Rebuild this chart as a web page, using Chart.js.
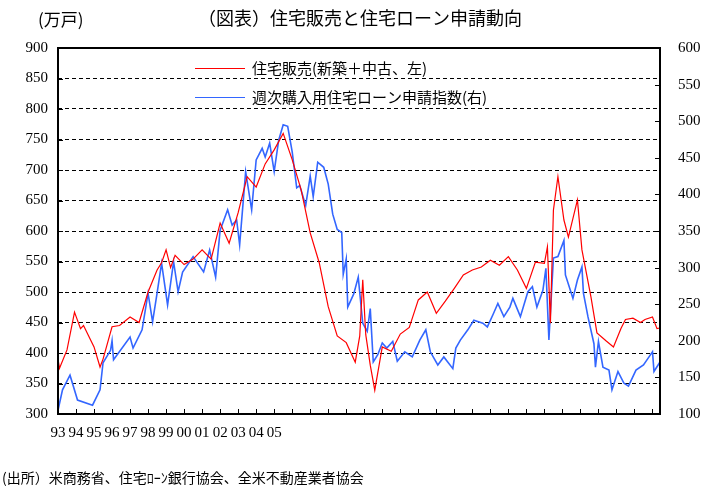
<!DOCTYPE html>
<html><head><meta charset="utf-8">
<script src="https://cdn.jsdelivr.net/npm/chart.js@4"></script>
<style>html,body{margin:0;padding:0;background:#fff}canvas{display:block}</style>
</head><body><canvas id="c" width="702" height="487"></canvas>
<script>
// months since Jan 1993
const salesMonths=[0,1,6,11,15,17,24,28,30,36,41,48,54,60,66,69,72,75,78,84,90,96,102,108,114,120,126,132,138,144,150,156,162,168,174,180,186,192,198,201,203,205,208,211,216,222,228,234,240,246,252,258,264,270,276,282,288,294,300,306,312,318,324,326,328,330,333,337,340,346,349,355,359,365,370,375,378,383,388,391,396,399,401];
const salesValues=[390,375,405,467,440,445,410,377,390,443,445,459,450,500,536,548,569,540,560,545,554,569,554,613,580,630,689,672,710,733,760,717,667,597,548,476,428,417,385,428,520,430,380,339,410,403,431,442,487,500,465,485,506,528,536,541,552,544,558,536,506,549,547,574,449,634,689,618,590,651,569,492,433,420,410,440,455,457,450,455,459,440,441];
const mbaMonths=[0,3,8,13,23,28,30,35,36,37,48,50,56,60,63,66,69,73,77,80,83,90,97,101,105,108,113,116,119,121,125,128,129,132,136,138,141,144,147,150,153,156,159,161,165,168,170,173,177,180,183,186,189,190,192,193,197,200,203,206,208,210,213,216,219,223,226,231,236,241,245,248,253,257,263,265,268,273,277,283,286,290,293,297,301,303,308,313,316,319,323,325,327,330,333,337,338,343,346,349,350,353,357,358,360,363,367,369,373,377,380,385,390,393,396,397,401];
const mbaValues=[105,133,153,119,112,133,170,187,200,174,205,190,215,265,226,265,306,249,308,267,294,315,294,324,287,351,379,358,365,331,431,392,379,447,463,451,470,431,474,495,493,458,409,412,385,425,397,444,437,414,373,352,348,291,312,246,264,287,224,213,244,171,181,197,190,199,172,185,178,201,215,185,167,178,162,190,201,215,228,224,219,237,251,233,246,258,233,267,274,246,269,299,201,313,315,337,290,258,283,301,265,233,196,164,199,164,160,133,158,142,138,160,167,176,185,158,171];
const yearLabels=['93','94','95','96','97','98','99','00','01','02','03','04','05'];
const leftTicks=[300,350,400,450,500,550,600,650,700,750,800,850,900];
const rightTicks=[100,150,200,250,300,350,400,450,500,550,600];
const seriesNames=['住宅販売(新築＋中古、左)','週次購入用住宅ローン申請指数(右)'];
const sourceText='(出所）米商務省、住宅ﾛｰﾝ銀行協会、全米不動産業者協会';
const serif='"Liberation Serif","Noto Sans CJK JP",serif';
const jp='"Noto Sans CJK JP",sans-serif';

const extras={id:'extras',afterDraw(ch){
  const c=ch.ctx,a=ch.chartArea;c.save();
  c.strokeStyle='#000';c.lineWidth=1;
  const xs=ch.scales.x,yl=ch.scales.y,yr=ch.scales.y2;
  xs.ticks.forEach(t=>{const p=Math.round(xs.getPixelForValue(t.value))+.5;c.beginPath();c.moveTo(p,a.bottom);c.lineTo(p,a.bottom-5);c.stroke();});
  yl.ticks.forEach(t=>{const p=Math.round(yl.getPixelForValue(t.value))+.5;c.beginPath();c.moveTo(a.left,p);c.lineTo(a.left+5,p);c.stroke();});
  yr.ticks.forEach(t=>{const p=Math.round(yr.getPixelForValue(t.value))+.5;c.beginPath();c.moveTo(a.right,p);c.lineTo(a.right-5,p);c.stroke();});
  c.lineWidth=2;c.strokeRect(a.left,a.top,a.right-a.left,a.bottom-a.top);
  const ly=[68,97];
  ch.data.datasets.forEach((d,i)=>{c.font='15px '+jp;
    c.strokeStyle=d.borderColor;c.lineWidth=1.2;c.beginPath();c.moveTo(195,ly[i]+.5);c.lineTo(245,ly[i]+.5);c.stroke();
    c.fillStyle='#000';c.textBaseline='middle';c.fillText(d.label,252,ly[i]);});
  c.fillStyle='#000';c.textBaseline='middle';
  c.font='18px '+jp;c.textAlign='center';c.fillText('（図表）住宅販売と住宅ローン申請動向',360,18);
  c.font='17px '+jp;c.textAlign='left';c.fillText('(万戸)',38,20);
  c.font='14px '+jp;c.fillText(sourceText,2,478);
  c.restore();}};

new Chart(document.getElementById('c'),{type:'line',
 data:{datasets:[
  {label:seriesNames[0],data:salesMonths.map((m,i)=>({x:m,y:salesValues[i]})),borderColor:'#ff0000',borderWidth:1.2,pointRadius:0,yAxisID:'y',tension:0},
  {label:seriesNames[1],data:mbaMonths.map((m,i)=>({x:m,y:mbaValues[i]})),borderColor:'#3366ff',borderWidth:1.6,pointRadius:0,yAxisID:'y2',tension:0}]},
 options:{responsive:false,animation:false,devicePixelRatio:1,
  layout:{padding:{left:0,right:0,top:48,bottom:43}},
  plugins:{legend:{display:false},tooltip:{enabled:false}},
  scales:{
   x:{type:'linear',min:0,max:401,afterFit(s){s.height=30;},
      afterBuildTicks(s){const t=[];for(let v=0;v<=401;v+=12)t.push({value:v});s.ticks=t;},
      grid:{display:false},border:{display:false},
      ticks:{autoSkip:false,maxRotation:0,padding:2,color:'#000',font:{family:serif,size:15},
        callback:(v)=>{const i=v/12;return i<yearLabels.length?yearLabels[i]:'';}}},
   y:{position:'left',min:300,max:900,afterFit(s){s.width=58;},
      afterBuildTicks(s){s.ticks=leftTicks.map(v=>({value:v}));},
      grid:{color:'#000',lineWidth:1,drawTicks:false},border:{display:false,dash:[4,3]},
      ticks:{color:'#000',padding:10,font:{family:serif,size:15}}},
   y2:{position:'right',min:100,max:600,afterFit(s){s.width=42;},
      afterBuildTicks(s){s.ticks=rightTicks.map(v=>({value:v}));},
      grid:{display:false},border:{display:false},
      ticks:{color:'#000',padding:10,font:{family:serif,size:15}}}}},
 plugins:[extras]});
</script>
</body></html>
